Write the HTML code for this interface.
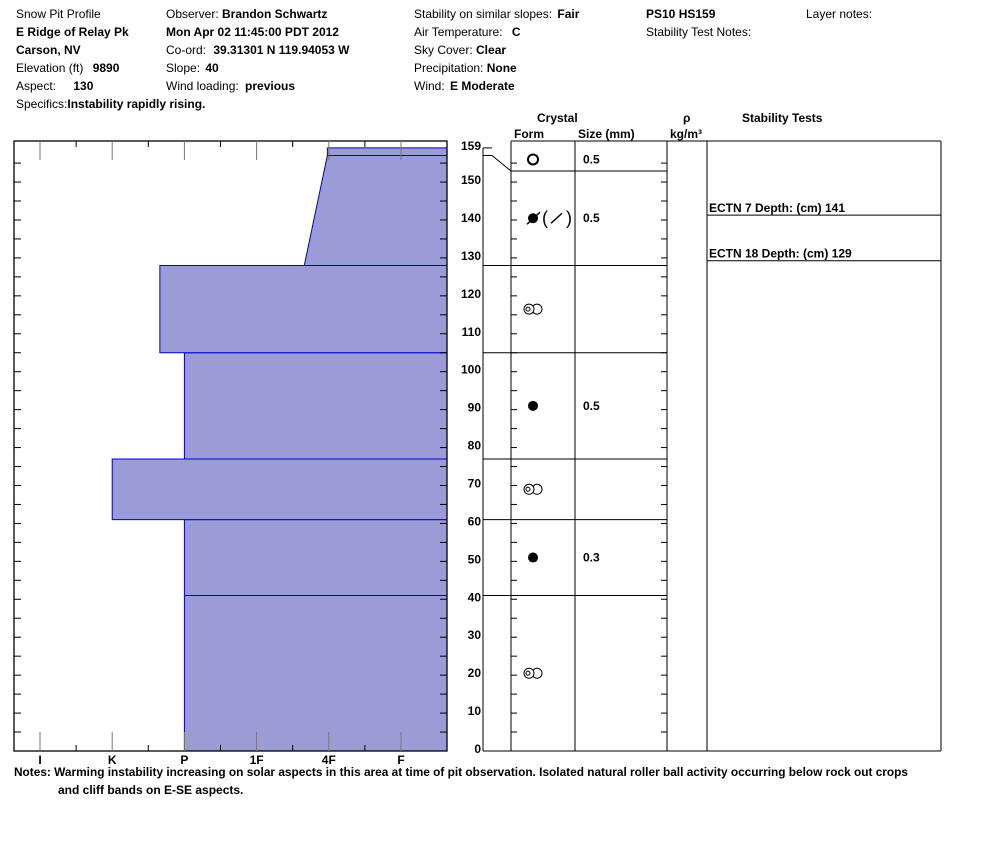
<!DOCTYPE html>
<html><head><meta charset="utf-8"><style>
body{margin:0;background:#fff;width:994px;height:840px;overflow:hidden}
svg{font-family:"Liberation Sans",Arial,sans-serif;font-size:12px}
.b{font-weight:bold}
</style></head><body>
<svg id="c" width="994" height="840">
<g>
<text x="16" y="18">Snow Pit Profile</text>
<text x="16" y="36" class="b">E Ridge of Relay Pk</text>
<text x="16" y="54" class="b">Carson, NV</text>
<text x="16" y="72">Elevation (ft) <tspan class="b" dx="6">9890</tspan></text>
<text x="16" y="90">Aspect: <tspan class="b" dx="14">130</tspan></text>
<text x="16" y="108">Specifics:<tspan class="b">Instability rapidly rising.</tspan></text>
<text x="166" y="18">Observer: <tspan class="b">Brandon Schwartz</tspan></text>
<text x="166" y="36" class="b">Mon Apr 02 11:45:00 PDT 2012</text>
<text x="166" y="54">Co-ord: <tspan class="b" dx="4">39.31301 N 119.94053 W</tspan></text>
<text x="166" y="72">Slope: <tspan class="b" dx="2">40</tspan></text>
<text x="166" y="90">Wind loading: <tspan class="b" dx="3">previous</tspan></text>
<text x="414" y="18">Stability on similar slopes: <tspan class="b" dx="2">Fair</tspan></text>
<text x="414" y="36">Air Temperature: <tspan class="b" dx="6">C</tspan></text>
<text x="414" y="54">Sky Cover: <tspan class="b">Clear</tspan></text>
<text x="414" y="72">Precipitation: <tspan class="b">None</tspan></text>
<text x="414" y="90">Wind: <tspan class="b" dx="2">E Moderate</tspan></text>
<text x="646" y="18" class="b">PS10 HS159</text>
<text x="646" y="36">Stability Test Notes:</text>
<text x="806" y="18">Layer notes:</text>
</g>
<g class="b">
<text x="537" y="122">Crystal</text>
<text x="514" y="138">Form</text>
<text x="578" y="138">Size (mm)</text>
<text x="683" y="122">ρ</text>
<text x="670" y="138">kg/m³</text>
<text x="742" y="122">Stability Tests</text>
</g>
<g id="hard"></g>
<g id="grid"></g>
<g class="b">
<text x="14" y="776" textLength="894" lengthAdjust="spacingAndGlyphs">Notes:  Warming instability increasing on solar aspects in this area at time of pit observation. Isolated natural roller ball activity occurring below rock out crops</text>
<text x="58" y="794">and cliff bands on E-SE aspects.</text>
</g>
</svg>
<script>
const layerBottoms=[0,41,61,77,105,128,157];
const layerTops=[41,61,77,105,128,157,159];
const hardBottom=[3,3,2,3,2.66,4.66,4.98];
const hardTop=[3,3,2,3,2.66,4.98,4.98];
const hardLabels=["I","K","P","1F","4F","F"];
const depthTicks=[0,10,20,30,40,50,60,70,80,90,100,110,120,130,140,150,159];
const crystalForms=["rg","dot","rg","dot","rg","fc","o"];
const crystalSizes=["","0.3","","0.5","","0.5","0.5"];
const stabTests=[["ECTN 7   Depth: (cm) 141",141],["ECTN 18   Depth: (cm) 129",129]];

const NS="http://www.w3.org/2000/svg";
const y=d=>751-d*3.793;
const x=h=>40+(h-1)*72.2;
function mk(p,t,a){const e=document.createElementNS(NS,t);for(const k in a)e.setAttribute(k,a[k]);p.appendChild(e);return e;}
const H=document.getElementById('hard'),G=document.getElementById('grid');
const last=layerBottoms.length-1;
layerBottoms.forEach((b,i)=>{
  const p=mk(H,'polygon',{points:`${x(hardBottom[i])},${y(b)} 447,${y(b)} 447,${y(layerTops[i])} ${x(hardTop[i])},${y(layerTops[i])}`,fill:'#9b9bd6',stroke:'#0000cc','stroke-width':1});
  
  
});
mk(H,'rect',{x:14,y:141,width:433,height:610,fill:'none',stroke:'#000','stroke-width':1.3});
for(let d=5;d<159;d+=5){mk(H,'line',{x1:14,x2:21,y1:y(d),y2:y(d),stroke:'#000'});mk(H,'line',{x1:440,x2:447,y1:y(d),y2:y(d),stroke:'#000'});}
hardLabels.forEach((l,i)=>{
  const xx=x(i+1);
  mk(H,'line',{x1:xx,x2:xx,y1:141,y2:160,stroke:'#777'});
  mk(H,'line',{x1:xx,x2:xx,y1:732,y2:751,stroke:'#777'});
  const t=mk(H,'text',{x:xx,y:764,'text-anchor':'middle','font-weight':'bold'});t.textContent=l;
  
  
  if(i<5){const m=xx+36.1;mk(H,'line',{x1:m,x2:m,y1:141,y2:147,stroke:'#000'});mk(H,'line',{x1:m,x2:m,y1:745,y2:751,stroke:'#000'});}
});
[[511,141,511,751],[575,141,575,751],[667,141,667,751],[707,141,707,751],[941,141,941,751],[511,141,941,141],[483,751,941,751],[483,148,483,751]].forEach(a=>mk(G,'line',{x1:a[0],y1:a[1],x2:a[2],y2:a[3],stroke:'#000'}));
depthTicks.forEach(d=>{const t=mk(G,'text',{x:481,y:y(d)+2,'text-anchor':'end','font-weight':'bold'});t.textContent=d;
  
  });
mk(G,'line',{x1:483,x2:492,y1:y(159),y2:y(159),stroke:'#000'});
for(let d=5;d<159;d+=5){mk(G,'line',{x1:511,x2:517,y1:y(d),y2:y(d),stroke:'#000'});mk(G,'line',{x1:661,x2:667,y1:y(d),y2:y(d),stroke:'#000'});}
layerBottoms.forEach((b,i)=>{
  if(b===0)return;
  if(i===last){mk(G,'polyline',{points:`483,${y(b)} 492,${y(b)} 511,171 667,171`,fill:'none',stroke:'#000'});}
  else mk(G,'line',{x1:483,x2:667,y1:y(b),y2:y(b),stroke:'#000'});
});
layerBottoms.forEach((b,i)=>{
  const top=i===last?y(layerTops[i]):(i===last-1?171:y(layerTops[i]));
  const bot=i===last?171:y(b);const cy=(top+bot)/2;const f=crystalForms[i];
  const g=mk(G,'g',{});
  
  
  if(f==='o')mk(g,'circle',{cx:533,cy:cy,r:5,fill:'none',stroke:'#000','stroke-width':2});
  if(f==='dot')mk(g,'circle',{cx:533,cy:cy,r:5,fill:'#000'});
  if(f==='rg'){mk(g,'circle',{cx:537,cy:cy,r:5,fill:'#fff',stroke:'#000'});mk(g,'circle',{cx:529,cy:cy,r:5,fill:'#fff',stroke:'#000'});mk(g,'circle',{cx:528,cy:cy,r:2,fill:'none',stroke:'#000'});}
  if(f==='fc'){mk(g,'circle',{cx:533,cy:cy,r:5,fill:'#000'});mk(g,'line',{x1:527,y1:cy+6,x2:540,y2:cy-6,stroke:'#000','stroke-width':1.5});
    const t1=mk(g,'text',{x:542,y:cy+6,'font-size':'18px'});t1.textContent='(';
    mk(g,'line',{x1:551,y1:cy+5,x2:562,y2:cy-5,stroke:'#000','stroke-width':1.5});
    const t2=mk(g,'text',{x:566,y:cy+6,'font-size':'18px'});t2.textContent=')';}
  if(crystalSizes[i]){const t=mk(G,'text',{x:583,y:cy+4,'font-weight':'bold'});t.textContent=crystalSizes[i];
    
    }
});
stabTests.forEach(s=>{const yy=y(s[1])-1;mk(G,'line',{x1:707,x2:941,y1:yy,y2:yy,stroke:'#000'});
  const t=mk(G,'text',{x:709,y:yy-3,'font-weight':'bold'});t.textContent=s[0];
  
  });
</script>
</body></html>
